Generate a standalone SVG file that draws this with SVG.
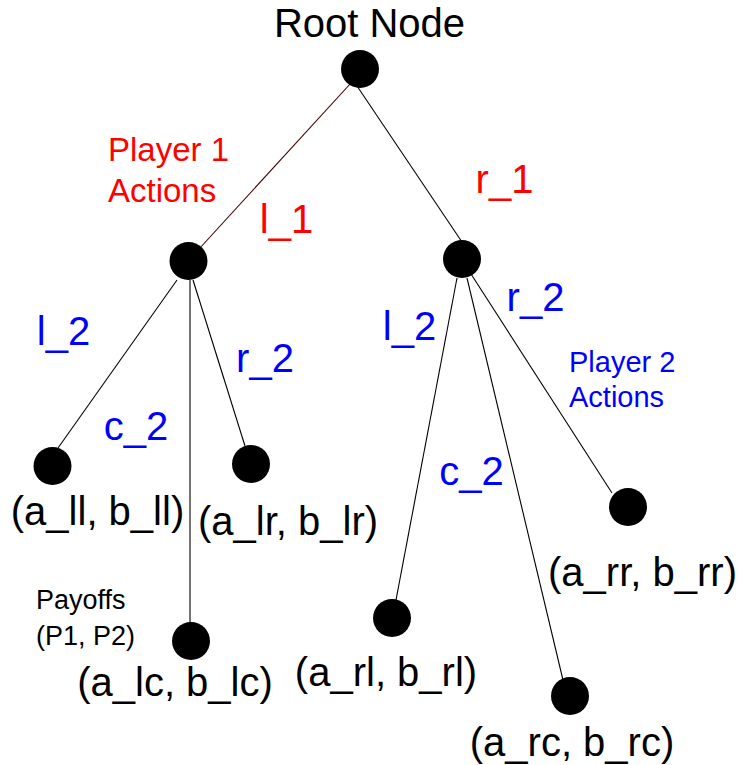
<svg xmlns="http://www.w3.org/2000/svg" width="739" height="765" viewBox="0 0 739 765">
<style>
.n{fill:#000}
.e{stroke:#000;stroke-width:1.1;fill:none}
.t{font-family:"Liberation Sans",Arial,sans-serif;fill:#000;text-anchor:middle}
.big{font-size:40px}
.red{fill:#ff0000}
.blue{fill:#0000ff}
.s{text-anchor:start}
</style>
<rect width="739" height="765" fill="#fff"/>
<g id="connectors">
<line class="e" x1="351" y1="83" x2="199" y2="249" style="stroke:#400000"/>
<line class="e" x1="357" y1="86" x2="462" y2="242"/>
<line class="e" x1="177" y1="280" x2="58" y2="448"/>
<line class="e" x1="190" y1="280" x2="190" y2="624"/>
<line class="e" x1="193" y1="280" x2="245" y2="446"/>
<line class="e" x1="457" y1="278" x2="396" y2="600"/>
<line class="e" x1="467" y1="278" x2="563" y2="680"/>
<line class="e" x1="471" y1="274" x2="612" y2="493"/>
</g>
<g id="root">
<circle class="n" cx="360" cy="69" r="19"/>
<text class="t big" x="369.5" y="37">Root Node</text>
</g>
<g id="p1-left">
<circle class="n" cx="188.5" cy="261" r="19"/>
</g>
<g id="p1-right">
<circle class="n" cx="462" cy="259" r="19"/>
</g>
<g id="leaf-ll">
<circle class="n" cx="52.5" cy="466" r="19"/>
<text class="t big" x="97.5" y="525">(a_ll, b_ll)</text>
</g>
<g id="leaf-lr">
<circle class="n" cx="251" cy="464" r="19"/>
<text class="t big" x="288" y="535">(a_lr, b_lr)</text>
</g>
<g id="leaf-lc">
<circle class="n" cx="191" cy="641" r="19"/>
<text class="t big" x="175" y="696">(a_lc, b_lc)</text>
</g>
<g id="leaf-rl">
<circle class="n" cx="392" cy="618" r="19"/>
<text class="t big" x="386" y="686">(a_rl, b_rl)</text>
</g>
<g id="leaf-rc">
<circle class="n" cx="570" cy="696" r="19"/>
<text class="t big" x="572" y="756">(a_rc, b_rc)</text>
</g>
<g id="leaf-rr">
<circle class="n" cx="628" cy="507" r="19"/>
<text class="t big" x="642.5" y="586">(a_rr, b_rr)</text>
</g>
<g id="labels">
<text class="t red s" x="108" y="161" font-size="33">Player 1</text>
<text class="t red s" x="108" y="202" font-size="33">Actions</text>
<text class="t big red" x="286.5" y="233">l_1</text>
<text class="t big red" x="504.5" y="193">r_1</text>
<text class="t big blue" x="63.5" y="345">l_2</text>
<text class="t big blue" x="136" y="440">c_2</text>
<text class="t big blue" x="265" y="372">r_2</text>
<text class="t big blue" x="409.5" y="340">l_2</text>
<text class="t big blue" x="535.5" y="311">r_2</text>
<text class="t big blue" x="471.5" y="485">c_2</text>
<text class="t blue s" x="569" y="372" font-size="29">Player 2</text>
<text class="t blue s" x="569" y="407" font-size="29">Actions</text>
<text class="t s" x="36" y="609" font-size="27">Payoffs</text>
<text class="t s" x="36" y="645" font-size="27">(P1, P2)</text>
</g>
</svg>
